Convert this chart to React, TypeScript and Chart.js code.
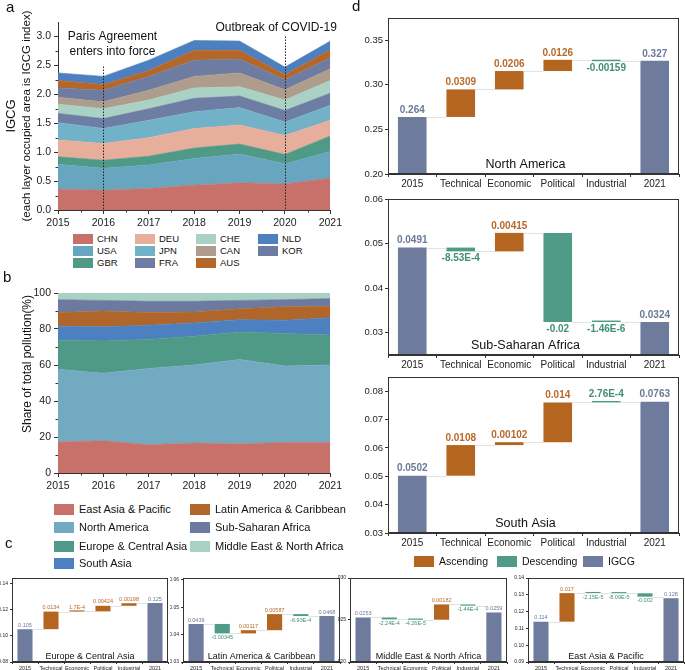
import React, { useEffect, useRef } from "react";
import { Chart, registerables } from "chart.js";

Chart.register(...registerables);

const FONT = "'Liberation Sans', Arial, Helvetica, sans-serif";
Chart.defaults.font.family = FONT;
Chart.defaults.color = "#222";

// ================= Panel a : IGCG by country (stacked) =================
const years = ["2015", "2016", "2017", "2018", "2019", "2020", "2021"];
const chnIGCG = [0.36, 0.34, 0.37, 0.43, 0.47, 0.45, 0.55];
const usaIGCG = [0.43, 0.38, 0.41, 0.46, 0.5, 0.35, 0.46];
const gbrIGCG = [0.13, 0.14, 0.15, 0.18, 0.17, 0.16, 0.27];
const deuIGCG = [0.29, 0.29, 0.32, 0.34, 0.33, 0.33, 0.27];
const jpnIGCG = [0.3, 0.26, 0.3, 0.29, 0.3, 0.23, 0.26];
const fraIGCG = [0.16, 0.17, 0.2, 0.23, 0.2, 0.2, 0.21];
const cheIGCG = [0.16, 0.17, 0.15, 0.18, 0.16, 0.18, 0.22];
const canIGCG = [0.12, 0.12, 0.17, 0.2, 0.24, 0.18, 0.2];
const korIGCG = [0.16, 0.2, 0.24, 0.28, 0.24, 0.17, 0.19];
const ausIGCG = [0.13, 0.1, 0.1, 0.17, 0.15, 0.09, 0.14];
const nldIGCG = [0.13, 0.14, 0.18, 0.17, 0.16, 0.13, 0.15];
const igcgMinorTicks = [0.25, 0.75, 1.25, 1.75, 2.25, 2.75];
const eventYears = ["2016", "2020"];
const eventLineTops = [2.48, 3.0];

// ================= Panel b : regional share (%) =================
const eapShare = [17.2, 17.9, 15.7, 16.6, 16.2, 17.0, 17.0];
const naShare = [40.4, 37.5, 42.4, 43.4, 46.9, 42.4, 43.0];
const ecaShare = [16.2, 18.0, 16.1, 16.0, 15.3, 18.1, 16.6];
const saShare = [7.7, 7.8, 7.9, 7.4, 6.8, 7.4, 9.6];
const lacShare = [7.6, 8.8, 7.0, 6.1, 6.1, 7.4, 6.4];
const ssaShare = [7.2, 5.9, 6.3, 5.9, 4.6, 4.0, 4.3];
const menaShare = [3.7, 4.1, 4.6, 4.6, 4.1, 3.7, 3.1];
const shareMinorTicks = [10, 30, 50, 70, 90];

// ================= Waterfalls (c, d) =================
const steps = ["2015", "Technical", "Economic", "Political", "Industrial", "2021"];

const northAmericaValues = [0.264, 0.0309, 0.0206, 0.0126, -0.00159, 0.327];
const northAmericaLabels = ["0.264", "0.0309", "0.0206", "0.0126", "-0.00159", "0.327"];
const subSaharanValues = [0.0491, -0.000853, 0.00415, -0.02, -0.00000146, 0.0324];
const subSaharanLabels = ["0.0491", "-8.53E-4", "0.00415", "-0.02", "-1.46E-6", "0.0324"];
const southAsiaValues = [0.0502, 0.0108, 0.00102, 0.014, 0.000276, 0.0763];
const southAsiaLabels = ["0.0502", "0.0108", "0.00102", "0.014", "2.76E-4", "0.0763"];
const southAsiaKinds = ["total", "up", "up", "up", "down", "total"];

const europeValues = [0.105, 0.0134, 0.00017, 0.00424, 0.00198, 0.125];
const europeLabels = ["0.105", "0.0134", "1.7E-4", "0.00424", "0.00198", "0.125"];
const latinValues = [0.0439, -0.00345, 0.00117, 0.00587, -0.000693, 0.0468];
const latinLabels = ["0.0439", "-0.00345", "0.00117", "0.00587", "-6.93E-4", "0.0468"];
const menaValues = [0.0253, -0.000224, -0.0000426, 0.00182, -0.000144, 0.0259];
const menaLabels = ["0.0253", "-2.24E-4", "-4.26E-5", "0.00182", "-1.44E-4", "0.0259"];
const eastAsiaValues = [0.114, 0.017, -0.0000215, -0.0000809, -0.002, 0.128];
const eastAsiaLabels = ["0.114", "0.017", "-2.15E-5", "-8.09E-5", "-0.002", "0.128"];

// ================= Styles =================
const BAR_COL: Record<string, string> = { total: "#6e7b9c", up: "#b4651f", down: "#4f9b87" };
const LAB_COL: Record<string, string> = { total: "#6b7899", up: "#b8692a", down: "#3f8f74" };
const AXIS = "#333";

const countryLayers = [
  { label: "CHN", data: chnIGCG, color: "#c8716a" },
  { label: "USA", data: usaIGCG, color: "#67a6be" },
  { label: "GBR", data: gbrIGCG, color: "#4f9a86" },
  { label: "DEU", data: deuIGCG, color: "#e7ae9b" },
  { label: "JPN", data: jpnIGCG, color: "#72b2c8" },
  { label: "FRA", data: fraIGCG, color: "#6d7da3" },
  { label: "CHE", data: cheIGCG, color: "#a9d1c4" },
  { label: "CAN", data: canIGCG, color: "#ae9c8c" },
  { label: "KOR", data: korIGCG, color: "#6f7ca1" },
  { label: "AUS", data: ausIGCG, color: "#b5672a" },
  { label: "NLD", data: nldIGCG, color: "#4d80c0" },
];
const countryColor = (n: string) => countryLayers.find((c) => c.label === n)!.color;

const regionLayers = [
  { label: "East Asia & Pacific", data: eapShare, color: "#c8716a" },
  { label: "North America", data: naShare, color: "#72abc1" },
  { label: "Europe & Central Asia", data: ecaShare, color: "#4f9a86" },
  { label: "South Asia", data: saShare, color: "#4c80c1" },
  { label: "Latin America & Caribbean", data: lacShare, color: "#b0662b" },
  { label: "Sub-Saharan Africa", data: ssaShare, color: "#6d7a9f" },
  { label: "Middle East & North Africa", data: menaShare, color: "#a9d0c4" },
];
const regionColor = (n: string) => regionLayers.find((c) => c.label === n)!.color;

// ================= Helpers =================
function minorTicksPlugin(yMinor: number[], len: number) {
  return {
    id: "minorTicks",
    afterDraw(chart: any) {
      const { ctx, chartArea: ca, scales } = chart;
      const x = scales.x;
      const y = scales.y;
      ctx.save();
      ctx.strokeStyle = AXIS;
      ctx.lineWidth = 1;
      const n = chart.data.labels.length;
      for (let i = 0; i < n - 1; i++) {
        const px = Math.round((x.getPixelForValue(i) + x.getPixelForValue(i + 1)) / 2) + 0.5;
        ctx.beginPath();
        ctx.moveTo(px, ca.bottom);
        ctx.lineTo(px, ca.bottom + len);
        ctx.stroke();
      }
      yMinor.forEach((v) => {
        const py = Math.round(y.getPixelForValue(v)) + 0.5;
        ctx.beginPath();
        ctx.moveTo(ca.left - len, py);
        ctx.lineTo(ca.left, py);
        ctx.stroke();
      });
      ctx.restore();
    },
  };
}

function areaConfig(o: any) {
  return {
    type: "line",
    data: {
      labels: years,
      datasets: o.layers.map((l: any, i: number) => ({
        label: l.label,
        data: l.data,
        fill: i === 0 ? "origin" : "-1",
        backgroundColor: l.color,
        borderColor: l.color,
        borderWidth: 0.6,
        pointRadius: 0,
        tension: 0,
      })),
    },
    options: {
      animation: false,
      responsive: false,
      devicePixelRatio: 1,
      layout: { padding: o.padding },
      plugins: { legend: { display: false }, tooltip: { enabled: false } },
      scales: {
        x: {
          type: "category",
          offset: false,
          grid: { drawOnChartArea: false, tickLength: 4, color: AXIS },
          border: { color: AXIS, width: 1 },
          ticks: { font: { size: 10.5 }, color: "#222", padding: 3, maxRotation: 0, autoSkip: false },
          afterFit: (s: any) => {
            s.height = o.xHeight;
          },
        },
        y: {
          stacked: true,
          min: o.yMin,
          max: o.yMax,
          grid: { drawOnChartArea: false, tickLength: 4, color: AXIS },
          border: { color: AXIS, width: 1 },
          ticks: {
            stepSize: o.yStep,
            includeBounds: false,
            font: { size: 10.5 },
            color: "#222",
            padding: 3,
            callback: (v: any) => Number(v).toFixed(o.yDec),
          },
          afterFit: (s: any) => {
            s.width = o.yWidth;
          },
        },
      },
    },
    plugins: [minorTicksPlugin(o.yMinor, 2.5), ...o.extra],
  };
}

const panelAExtra = {
  id: "panelAExtra",
  afterDraw(chart: any) {
    const { ctx, chartArea: ca, scales } = chart;
    const x = scales.x;
    const y = scales.y;
    ctx.save();
    ctx.strokeStyle = "#222";
    ctx.lineWidth = 1;
    ctx.setLineDash([1.5, 1.5]);
    const xs = eventYears.map((yr) => Math.round(x.getPixelForValue(years.indexOf(yr))) + 0.5);
    xs.forEach((px, i) => {
      ctx.beginPath();
      ctx.moveTo(px, y.getPixelForValue(eventLineTops[i]));
      ctx.lineTo(px, ca.bottom);
      ctx.stroke();
    });
    ctx.setLineDash([]);
    ctx.fillStyle = "#111";
    ctx.font = `12px ${FONT}`;
    ctx.textBaseline = "middle";
    ctx.textAlign = "center";
    ctx.fillText("Paris Agreement", xs[0] + 9, ca.top + 15);
    ctx.fillText("enters into force", xs[0] + 9, ca.top + 30);
    ctx.textAlign = "left";
    ctx.fillText("Outbreak of COVID-19", xs[1] - 70, ca.top + 6);
    const mid = (ca.top + ca.bottom) / 2;
    ctx.textAlign = "center";
    ctx.save();
    ctx.translate(11, mid);
    ctx.rotate(-Math.PI / 2);
    ctx.font = `13px ${FONT}`;
    ctx.fillText("IGCG", 0, 0);
    ctx.restore();
    ctx.save();
    ctx.translate(27, mid);
    ctx.rotate(-Math.PI / 2);
    ctx.font = `11.5px ${FONT}`;
    ctx.fillText("(each layer occupied area is IGCG index)", 0, 0);
    ctx.restore();
    ctx.restore();
  },
};

const panelBExtra = {
  id: "panelBExtra",
  afterDraw(chart: any) {
    const { ctx } = chart;
    ctx.save();
    ctx.fillStyle = "#111";
    ctx.font = `12px ${FONT}`;
    ctx.textAlign = "center";
    ctx.textBaseline = "middle";
    ctx.translate(28, 84);
    ctx.rotate(-Math.PI / 2);
    ctx.fillText("Share of total pollution(%)", 0, 0);
    ctx.restore();
  },
};

const D_STYLE = { tick: 9.5, xl: 10, lab: 10, bold: true, title: 12.5, titleDy: 6.5, titleDx: -8, tickLen: 3, barPct: 0.59, gap: 2, minBar: 1.5 };
const C_STYLE = { tick: 5, xl: 5.5, lab: 5.5, bold: false, title: 9, titleDy: 3, titleDx: 0, tickLen: 2, barPct: 0.58, gap: 1.2, minBar: 1.2 };

function waterfallConfig(o: any) {
  const st = o.style;
  const values: number[] = o.values;
  const n = values.length;
  const bars: number[][] = [];
  const levels: number[] = [];
  let cum = 0;
  values.forEach((v, i) => {
    if (i === 0 || i === n - 1) {
      bars.push([0, v]);
      cum = v;
    } else {
      bars.push([cum, cum + v]);
      cum += v;
    }
    levels.push(cum);
  });
  const kinds: string[] =
    o.kinds || values.map((v, i) => (i === 0 || i === n - 1 ? "total" : v >= 0 ? "up" : "down"));

  const plugin = {
    id: "waterfall",
    afterDatasetsDraw(chart: any) {
      const { ctx, chartArea: ca, scales } = chart;
      const y = scales.y;
      const meta = chart.getDatasetMeta(0);
      ctx.save();
      ctx.strokeStyle = "#dadada";
      ctx.lineWidth = 0.8;
      for (let i = 0; i < n - 1; i++) {
        const a = meta.data[i];
        const b = meta.data[i + 1];
        const py = Math.round(y.getPixelForValue(levels[i])) + 0.5;
        if (py < ca.top || py > ca.bottom) continue;
        ctx.beginPath();
        ctx.moveTo(a.x + a.width / 2, py);
        ctx.lineTo(b.x - b.width / 2, py);
        ctx.stroke();
      }
      ctx.strokeStyle = AXIS;
      ctx.lineWidth = 1;
      ctx.strokeRect(Math.round(ca.left) + 0.5, Math.round(ca.top) + 0.5, Math.round(ca.width) - 1, Math.round(ca.height) - 1);
      ctx.font = `${st.bold ? "bold " : ""}${st.lab}px ${FONT}`;
      ctx.textAlign = "center";
      for (let i = 0; i < n; i++) {
        const el = meta.data[i];
        const hi = Math.max(bars[i][0], bars[i][1]);
        const lo = Math.min(bars[i][0], bars[i][1]);
        ctx.fillStyle = LAB_COL[kinds[i]];
        if (values[i] >= 0) {
          ctx.textBaseline = "bottom";
          ctx.fillText(o.labels[i], el.x, y.getPixelForValue(hi) - st.gap);
        } else {
          ctx.textBaseline = "top";
          ctx.fillText(o.labels[i], el.x, y.getPixelForValue(lo) + st.gap);
        }
      }
      ctx.fillStyle = "#111";
      ctx.font = `${st.title}px ${FONT}`;
      ctx.textBaseline = "alphabetic";
      ctx.fillText(o.title, (ca.left + ca.right) / 2 + st.titleDx, ca.bottom - st.titleDy);
      ctx.restore();
    },
  };

  return {
    type: "bar",
    data: {
      labels: steps,
      datasets: [
        {
          data: bars,
          backgroundColor: kinds.map((k) => BAR_COL[k]),
          borderWidth: 0,
          barPercentage: st.barPct,
          categoryPercentage: 1,
          minBarLength: st.minBar,
          clip: 0,
        },
      ],
    },
    options: {
      animation: false,
      responsive: false,
      devicePixelRatio: 1,
      layout: { padding: { top: o.padTop, right: o.padRight, left: 0, bottom: 0 } },
      plugins: { legend: { display: false }, tooltip: { enabled: false } },
      scales: {
        x: {
          grid: { drawOnChartArea: false, offset: true, tickLength: st.tickLen, color: AXIS },
          border: { color: AXIS, width: 1 },
          ticks: { font: { size: st.xl }, color: "#222", padding: 1, maxRotation: 0, autoSkip: false },
          afterFit: (s: any) => {
            s.height = o.xHeight;
          },
        },
        y: {
          min: o.yMin,
          max: o.yMax,
          grid: { drawOnChartArea: false, tickLength: st.tickLen, color: AXIS },
          border: { color: AXIS, width: 1 },
          ticks: {
            stepSize: o.step,
            includeBounds: false,
            font: { size: st.tick },
            color: "#222",
            padding: 2,
            callback: (v: any) => Number(v).toFixed(o.dec),
          },
          afterFit: (s: any) => {
            s.width = o.yWidth;
          },
        },
      },
    },
    plugins: [plugin],
  };
}

function ChartCanvas({ left, top, width, height, make }: { left: number; top: number; width: number; height: number; make: () => any }) {
  const ref = useRef<HTMLCanvasElement>(null);
  useEffect(() => {
    const chart = new Chart(ref.current as HTMLCanvasElement, make());
    return () => chart.destroy();
  }, []);
  return (
    <canvas
      ref={ref}
      width={width}
      height={height}
      style={{ position: "absolute", left, top, width, height, display: "block" }}
    />
  );
}

function LegendItem({ x, y, color, label, fs, sw = 20, sh = 10, gap = 4 }: any) {
  return (
    <div style={{ position: "absolute", left: x, top: y - sh / 2, height: sh, display: "flex", alignItems: "center", whiteSpace: "nowrap" }}>
      <div style={{ width: sw, height: sh, background: color, flex: "none" }} />
      <span style={{ marginLeft: gap, fontSize: fs, fontFamily: FONT, color: "#111", lineHeight: 1 }}>{label}</span>
    </div>
  );
}

function PanelLabel({ x, y, t }: any) {
  return (
    <div style={{ position: "absolute", left: x, top: y, fontFamily: FONT, fontSize: 15, lineHeight: "15px", color: "#111" }}>{t}</div>
  );
}

const legendAColumns = [["CHN", "USA", "GBR"], ["DEU", "JPN", "FRA"], ["CHE", "CAN", "AUS"], ["NLD", "KOR"]];
const legendAX = [73, 135, 196, 258];
const legendAY = [239, 251, 263];
const legendBColumns = [
  ["East Asia & Pacific", "North America", "Europe & Central Asia", "South Asia"],
  ["Latin America & Caribbean", "Sub-Saharan Africa", "Middle East & North Africa"],
];
const legendBX = [54, 190];
const legendBY = [509, 527, 546, 563];
const legendD = [
  { label: "Ascending", kind: "up", x: 414 },
  { label: "Descending", kind: "down", x: 497 },
  { label: "IGCG", kind: "total", x: 583 },
];

export default function App() {
  return (
    <div style={{ position: "absolute", left: 0, top: 0, width: 685, height: 670, overflow: "hidden", background: "#fff" }}>
      <ChartCanvas
        left={0}
        top={0}
        width={345}
        height={232}
        make={() =>
          areaConfig({
            layers: countryLayers,
            yMin: 0,
            yMax: 3.25,
            yStep: 0.5,
            yDec: 1,
            yMinor: igcgMinorTicks,
            yWidth: 58,
            xHeight: 22,
            padding: { top: 22, right: 13, left: 0, bottom: 0 },
            extra: [panelAExtra],
          })
        }
      />
      <ChartCanvas
        left={0}
        top={280}
        width={345}
        height={215}
        make={() =>
          areaConfig({
            layers: regionLayers,
            yMin: 0,
            yMax: 100,
            yStep: 20,
            yDec: 0,
            yMinor: shareMinorTicks,
            yWidth: 58,
            xHeight: 22,
            padding: { top: 13, right: 14, left: 0, bottom: 0 },
            extra: [panelBExtra],
          })
        }
      />
      {/* panel d */}
      <ChartCanvas left={345} top={0} width={340} height={195}
        make={() => waterfallConfig({ values: northAmericaValues, labels: northAmericaLabels, yMin: 0.2, yMax: 0.375, step: 0.05, dec: 2, title: "North America", style: D_STYLE, yWidth: 43, padTop: 18, padRight: 6, xHeight: 21 })} />
      <ChartCanvas left={345} top={185} width={340} height={190}
        make={() => waterfallConfig({ values: subSaharanValues, labels: subSaharanLabels, yMin: 0.025, yMax: 0.06, step: 0.01, dec: 2, title: "Sub-Saharan Africa", style: D_STYLE, yWidth: 43, padTop: 14, padRight: 6, xHeight: 20 })} />
      <ChartCanvas left={345} top={365} width={340} height={190}
        make={() => waterfallConfig({ values: southAsiaValues, labels: southAsiaLabels, kinds: southAsiaKinds, yMin: 0.03, yMax: 0.085, step: 0.01, dec: 2, title: "South Asia", style: D_STYLE, yWidth: 43, padTop: 12, padRight: 6, xHeight: 22 })} />
      {/* panel c */}
      <ChartCanvas left={0} top={565} width={172} height={105}
        make={() => waterfallConfig({ values: europeValues, labels: europeLabels, yMin: 0.08, yMax: 0.144, step: 0.02, dec: 2, title: "Europe & Central Asia", style: C_STYLE, yWidth: 12, padTop: 13, padRight: 4, xHeight: 8 })} />
      <ChartCanvas left={170} top={565} width={175} height={105}
        make={() => waterfallConfig({ values: latinValues, labels: latinLabels, yMin: 0.03, yMax: 0.0607, step: 0.01, dec: 2, title: "Latin America & Caribbean", style: C_STYLE, yWidth: 13, padTop: 13, padRight: 5, xHeight: 8 })} />
      <ChartCanvas left={338} top={565} width={174} height={105}
        make={() => waterfallConfig({ values: menaValues, labels: menaLabels, yMin: 0.02, yMax: 0.03, step: 0.005, dec: 3, title: "Middle East & North Africa", style: C_STYLE, yWidth: 12, padTop: 13, padRight: 5, xHeight: 8 })} />
      <ChartCanvas left={512} top={565} width={173} height={105}
        make={() => waterfallConfig({ values: eastAsiaValues, labels: eastAsiaLabels, yMin: 0.09, yMax: 0.14, step: 0.01, dec: 2, title: "East Asia & Pacific", style: C_STYLE, yWidth: 16, padTop: 13, padRight: 1, xHeight: 8 })} />

      {/* legends */}
      {legendAColumns.map((col, ci) =>
        col.map((name, ri) => (
          <LegendItem key={name} x={legendAX[ci]} y={legendAY[ri]} color={countryColor(name)} label={name} fs={9.5} sw={20} sh={10} gap={4} />
        ))
      )}
      {legendBColumns.map((col, ci) =>
        col.map((name, ri) => (
          <LegendItem key={name} x={legendBX[ci]} y={legendBY[ri]} color={regionColor(name)} label={name} fs={11} sw={20} sh={11} gap={5} />
        ))
      )}
      {legendD.map((it) => (
        <LegendItem key={it.label} x={it.x} y={561} color={BAR_COL[it.kind]} label={it.label} fs={10.5} sw={20} sh={11} gap={5} />
      ))}

      <PanelLabel x={6} y={-1} t="a" />
      <PanelLabel x={3} y={269} t="b" />
      <PanelLabel x={5} y={535} t="c" />
      <PanelLabel x={352} y={-2} t="d" />
    </div>
  );
}
